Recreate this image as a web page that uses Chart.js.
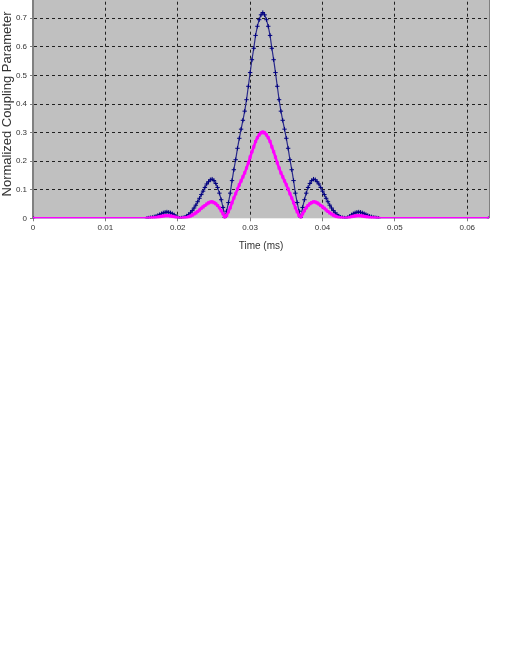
<!DOCTYPE html>
<html>
<head>
<meta charset="utf-8">
<script src="https://cdn.jsdelivr.net/npm/chart.js@4.4.1/dist/chart.umd.min.js"></script>
<style>
  html, body { margin: 0; padding: 0; background: #ffffff; overflow: hidden; }
  body { width: 510px; height: 660px; position: relative; }
  #chart { position: absolute; left: 0; top: -20px; }
</style>
</head>
<body>
<canvas id="chart" width="510" height="275"></canvas>
<script>
// Tiempo (ms) de cada muestra
const timeMs = [
  0,
  0.01575, 0.016, 0.01625, 0.0165, 0.01675, 0.017, 0.01725, 0.0175, 0.01775, 0.018,
  0.01825, 0.0185, 0.01875, 0.019, 0.01925, 0.0195, 0.01975, 0.02, 0.02025, 0.0205,
  0.02075, 0.021, 0.02125, 0.0215, 0.02175, 0.022, 0.02225, 0.0225, 0.02275, 0.023,
  0.02325, 0.0235, 0.02375, 0.024, 0.02425, 0.0245, 0.02475, 0.025, 0.02525, 0.0255,
  0.02575, 0.026, 0.02625, 0.0265, 0.02675, 0.027, 0.02725, 0.0275, 0.02775, 0.028,
  0.02825, 0.0285, 0.02875, 0.029, 0.02925, 0.0295, 0.02975, 0.03, 0.03025, 0.0305,
  0.03075, 0.031, 0.03125, 0.0315, 0.03175,
  0.032, 0.03225, 0.0325, 0.03275, 0.033, 0.03325, 0.0335, 0.03375, 0.034, 0.03425,
  0.0345, 0.03475, 0.035, 0.03525, 0.0355, 0.03575, 0.036, 0.03625, 0.0365, 0.03675,
  0.037, 0.03725, 0.0375, 0.03775, 0.038, 0.03825, 0.0385, 0.03875, 0.039, 0.03925,
  0.0395, 0.03975, 0.04, 0.04025, 0.0405, 0.04075, 0.041, 0.04125, 0.0415, 0.04175,
  0.042, 0.04225, 0.0425, 0.04275, 0.043, 0.04325, 0.0435, 0.04375, 0.044, 0.04425,
  0.0445, 0.04475, 0.045, 0.04525, 0.0455, 0.04575, 0.046, 0.04625, 0.0465, 0.04675,
  0.047, 0.04725, 0.0475, 0.04775,
  0.063
];

// Serie azul marino
const navySeries = [
  0,
  0, 0.001, 0.002, 0.003, 0.005, 0.007, 0.010, 0.013, 0.016, 0.019,
  0.021, 0.022, 0.021, 0.019, 0.016, 0.012, 0.007, 0.003, 0, 0.001,
  0.002, 0.004, 0.008, 0.013, 0.019, 0.027, 0.036, 0.046, 0.058, 0.070,
  0.083, 0.095, 0.108, 0.120, 0.128, 0.135, 0.137, 0.132, 0.122, 0.108,
  0.088, 0.065, 0.038, 0.003, 0.025, 0.055, 0.088, 0.132, 0.170, 0.205,
  0.245, 0.280, 0.312, 0.343, 0.375, 0.415, 0.462, 0.510, 0.555, 0.595,
  0.640, 0.672, 0.695, 0.712, 0.720,
  0.712, 0.695, 0.672, 0.640, 0.595, 0.555, 0.510, 0.462, 0.415, 0.375,
  0.343, 0.312, 0.280, 0.245, 0.205, 0.170, 0.132, 0.088, 0.055, 0.025,
  0.003, 0.038, 0.065, 0.088, 0.108, 0.122, 0.132, 0.137, 0.135, 0.128,
  0.120, 0.108, 0.095, 0.083, 0.070, 0.058, 0.046, 0.036, 0.027, 0.019,
  0.013, 0.008, 0.004, 0.002, 0.001, 0, 0.003, 0.007, 0.012, 0.016,
  0.019, 0.021, 0.022, 0.021, 0.019, 0.016, 0.013, 0.010, 0.007, 0.005,
  0.003, 0.002, 0.001, 0,
  0
];

// Serie magenta
const magentaSeries = [
  0,
  0, 0, 0.001, 0.001, 0.002, 0.003, 0.004, 0.005, 0.007, 0.008,
  0.009, 0.009, 0.009, 0.008, 0.007, 0.005, 0.003, 0.001, 0, 0,
  0.001, 0.002, 0.003, 0.005, 0.008, 0.011, 0.015, 0.019, 0.024, 0.029,
  0.035, 0.040, 0.045, 0.050, 0.054, 0.057, 0.058, 0.055, 0.051, 0.045,
  0.037, 0.027, 0.016, 0.001, 0.010, 0.023, 0.037, 0.055, 0.071, 0.086,
  0.102, 0.117, 0.131, 0.145, 0.159, 0.176, 0.194, 0.214, 0.233, 0.250,
  0.269, 0.282, 0.292, 0.299, 0.302,
  0.299, 0.292, 0.282, 0.269, 0.250, 0.233, 0.214, 0.194, 0.176, 0.159,
  0.145, 0.131, 0.117, 0.102, 0.086, 0.071, 0.055, 0.037, 0.023, 0.010,
  0.001, 0.016, 0.027, 0.037, 0.045, 0.051, 0.055, 0.058, 0.057, 0.054,
  0.050, 0.045, 0.040, 0.035, 0.029, 0.024, 0.019, 0.015, 0.011, 0.008,
  0.005, 0.003, 0.002, 0.001, 0, 0, 0.001, 0.003, 0.005, 0.007,
  0.008, 0.009, 0.009, 0.009, 0.008, 0.007, 0.005, 0.004, 0.003, 0.002,
  0.001, 0.001, 0, 0,
  0
];

// Ticks de los ejes
const xTicks = [0, 0.01, 0.02, 0.03, 0.04, 0.05, 0.06];
const yTicks = [0, 0.1, 0.2, 0.3, 0.4, 0.5, 0.6, 0.7, 0.8];

const colors = {
  navy: '#000080',
  navyLine: '#2a2a8a',
  magenta: '#ff00ff',
  plotBg: '#c0c0c0',
  axis: '#808080',
  grid: '#202020',
  text: '#333333'
};

function toPoints(values) {
  return timeMs.map((t, i) => ({ x: t, y: values[i] }));
}

// Fondo gris del área de trazado y borde derecho
const plotBackground = {
  id: 'plotBackground',
  beforeDraw(chart) {
    const { ctx, chartArea: a } = chart;
    ctx.save();
    ctx.fillStyle = colors.plotBg;
    ctx.fillRect(a.left, a.top, a.right - a.left, a.bottom - a.top);
    ctx.restore();
  },
  afterDatasetsDraw(chart) {
    const { ctx, chartArea: a } = chart;
    ctx.save();
    ctx.strokeStyle = colors.axis;
    ctx.lineWidth = 1;
    ctx.beginPath();
    ctx.moveTo(a.right + 0.5, a.top);
    ctx.lineTo(a.right + 0.5, a.bottom);
    ctx.stroke();
    ctx.restore();
  }
};

const tickFont = { family: 'Liberation Sans, Arial, sans-serif', size: 8 };
const titleFont = { family: 'Liberation Sans, Arial, sans-serif', size: 10 };

new Chart(document.getElementById('chart'), {
  type: 'line',
  data: {
    datasets: [
      {
        label: 'A',
        data: toPoints(navySeries),
        borderColor: colors.navyLine,
        backgroundColor: colors.navy,
        borderWidth: 1.2,
        pointStyle: 'cross',
        pointRadius: 2.2,
        pointBorderWidth: 1,
        pointBorderColor: colors.navy,
        tension: 0,
        order: 1
      },
      {
        label: 'B',
        data: toPoints(magentaSeries),
        borderColor: colors.magenta,
        backgroundColor: colors.magenta,
        borderWidth: 2.6,
        pointStyle: 'rect',
        pointRadius: 2.2,
        pointBorderWidth: 0,
        tension: 0,
        order: 0
      }
    ]
  },
  options: {
    responsive: false,
    animation: false,
    layout: { padding: { top: 9.7, right: 21, bottom: 0.7, left: 0 } },
    plugins: {
      legend: { display: false },
      tooltip: { enabled: false }
    },
    scales: {
      x: {
        type: 'linear',
        min: 0,
        max: 0.063,
        afterFit(scale) { scale.height = 36; },
        afterBuildTicks(scale) { scale.ticks = xTicks.map(v => ({ value: v })); },
        border: { display: false, dash: [3, 3] },
        grid: {
          color: colors.grid,
          lineWidth: 1,
          tickLength: 3,
          tickColor: colors.axis,
          tickBorderDash: []
        },
        ticks: {
          color: colors.text,
          font: tickFont,
          padding: 2,
          maxRotation: 0,
          callback: v => (v === 0 ? '0' : v.toFixed(2))
        },
        title: {
          display: true,
          text: 'Time (ms)',
          color: colors.text,
          font: titleFont,
          padding: { top: 0, bottom: 2 }
        }
      },
      y: {
        min: 0,
        max: 0.8,
        afterFit(scale) { scale.width = 33; },
        afterBuildTicks(scale) { scale.ticks = yTicks.map(v => ({ value: v })); },
        border: { display: true, color: colors.axis, width: 2, dash: [3, 3] },
        grid: {
          color: ctx => (ctx.tick && ctx.tick.value === 0 ? 'rgba(0,0,0,0)' : colors.grid),
          lineWidth: 1,
          tickLength: 3,
          tickColor: colors.axis,
          tickBorderDash: []
        },
        ticks: {
          color: colors.text,
          font: tickFont,
          padding: 3,
          callback: v => (v === 0 ? '0' : v.toFixed(1))
        },
        title: {
          display: true,
          text: 'Normalized Coupling Parameter',
          color: colors.text,
          font: { family: 'Liberation Sans, Arial, sans-serif', size: 13 },
          padding: { top: 0, bottom: 0 }
        }
      }
    }
  },
  plugins: [plotBackground]
});
</script>
</body>
</html>
